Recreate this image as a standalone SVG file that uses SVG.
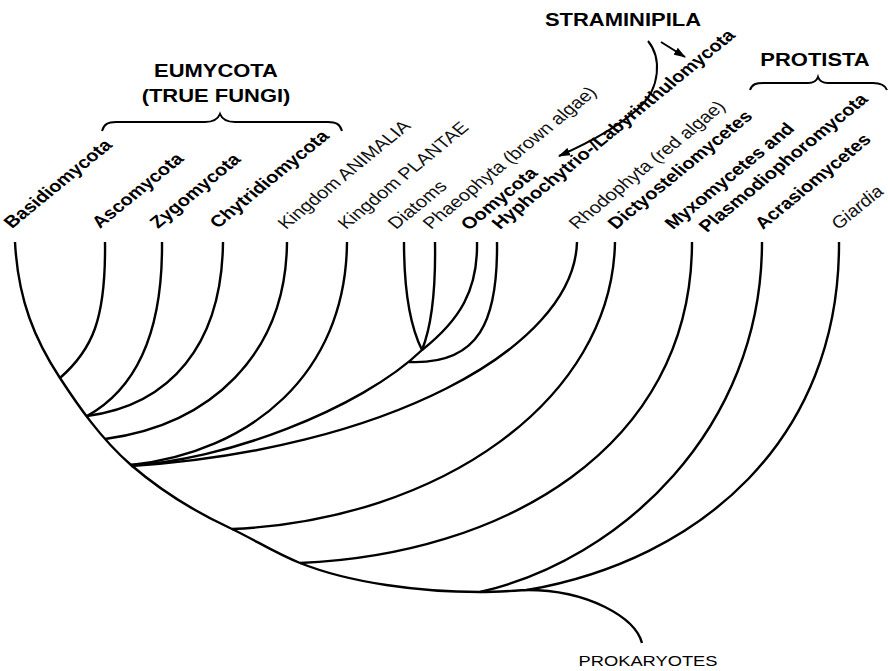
<svg xmlns="http://www.w3.org/2000/svg" width="888" height="671" viewBox="0 0 888 671">
<style>
.ln{fill:none;stroke:#000;stroke-width:2.4;stroke-linecap:butt}
.br{fill:none;stroke:#000;stroke-width:2}
text{font-family:"Liberation Sans",Arial,Helvetica,sans-serif;fill:#000}
.b{font-weight:bold;font-size:16.5px}
.r{font-weight:normal;font-size:16.5px;fill:#111}
.i{font-style:italic;font-size:16.5px;fill:#111}
.t{font-weight:bold;font-size:18px;text-anchor:middle}
.p{font-size:15px;text-anchor:middle}
</style>
<defs>
<marker id="ah" viewBox="0 0 12 8" refX="11" refY="4" markerWidth="12" markerHeight="8" markerUnits="userSpaceOnUse" orient="auto">
<path d="M0,0 L12,4 L0,8 z" fill="#000"/>
</marker>
</defs>
<rect width="888" height="671" fill="#fff"/>

<g id="connectors">
<path class="ln" d="M15,242 C18,300 35,340 60,378 C77,404 100,438 131,465 C160,490 195,512 232,529 C255,540 275,553 300,563 C350,583 420,592 480,592 C495,592 510,591 527,590"/>
<path class="ln" d="M105,242 C106,320 92,350 60,378"/>
<path class="ln" d="M162,242 C163,350 125,395 87,416"/>
<path class="ln" d="M223,242 C222,345 170,405 87,416"/>
<path class="ln" d="M287,242 C286,355 210,425 105,439"/>
<path class="ln" d="M347,242 C346,375 250,452 131,465"/>
<path class="ln" d="M404,242 C404,300 412,330 422,350"/>
<path class="ln" d="M435,242 C436,300 430,330 422,350"/>
<path class="ln" d="M477,242 C478,290 460,320 422,350 C360,410 220,462 131,465"/>
<path class="ln" d="M497,242 C498,320 480,365 409,362"/>
<path class="ln" d="M577,242 C574,350 380,450 131,466"/>
<path class="ln" d="M615,242 C612,400 440,520 232,529"/>
<path class="ln" d="M692,242 C692,450 500,555 300,563"/>
<path class="ln" d="M762,242 C762,430 620,560 480,592"/>
<path class="ln" d="M839,242 C840,440 700,560 527,590"/>
<path class="ln" d="M527,590 C560,590 585,597 605,607 C625,617 638,628 642,643"/>
<path class="br" d="M648,41 C662,58 660,88 640,107 C622,124 595,140 559,156" marker-end="url(#ah)"/>
<path class="br" d="M661,42 L685,57" marker-end="url(#ah)"/>
</g>

<g id="eumycota">
<path class="br" d="M102,131 C104,124 108,122 116,122 L205,122 C213,122 218,119 220,114 C222,119 227,122 235,122 L328,122 C336,122 340,124 342,131"/>
<text class="t" transform="translate(216,77) scale(1.22,1)">EUMYCOTA</text>
<text class="t" transform="translate(216,102) scale(1.22,1)">(TRUE FUNGI)</text>
</g>
<g id="protista">
<path class="br" d="M750,90 C752,84 756,83 764,83 L808,83 C815,83 817,80 818,77 C819,80 821,83 828,83 L873,83 C881,83 885,85 887,90"/>
<text class="t" transform="translate(815,66) scale(1.22,1)">PROTISTA</text>
</g>
<g id="straminipila">
<text class="t" transform="translate(623,26) scale(1.22,1)">STRAMINIPILA</text>
</g>

<g id="basidiomycota"><text class="b" transform="translate(12,229) scale(1.22,1) rotate(-45)">Basidiomycota</text></g>
<g id="ascomycota"><text class="b" transform="translate(100,229) scale(1.22,1) rotate(-45)">Ascomycota</text></g>
<g id="zygomycota"><text class="b" transform="translate(158,229) scale(1.22,1) rotate(-45)">Zygomycota</text></g>
<g id="chytridiomycota"><text class="b" transform="translate(218,229) scale(1.22,1) rotate(-45)">Chytridiomycota</text></g>
<g id="animalia"><text class="r" transform="translate(286,230) scale(1.22,1) rotate(-45)">Kingdom ANIMALIA</text></g>
<g id="plantae"><text class="r" transform="translate(346,230) scale(1.22,1) rotate(-45)">Kingdom PLANTAE</text></g>
<g id="diatoms"><text class="r" transform="translate(396,230) scale(1.22,1) rotate(-45)">Diatoms</text></g>
<g id="phaeophyta"><text class="r" transform="translate(431,230) scale(1.22,1) rotate(-45)">Phaeophyta (brown algae)</text></g>
<g id="oomycota"><text class="b" transform="translate(469,231) scale(1.22,1) rotate(-45)">Oomycota</text></g>
<g id="hyphochytrio"><text class="b" transform="translate(500,230) scale(1.22,1) rotate(-45)">Hyphochytrio-/Labyrinthulomycota</text></g>
<g id="rhodophyta"><text class="r" transform="translate(577,230) scale(1.22,1) rotate(-45)">Rhodophyta (red algae)</text></g>
<g id="dictyosteliomycetes"><text class="b" transform="translate(616,230) scale(1.22,1) rotate(-45)">Dictyosteliomycetes</text></g>
<g id="myxomycetes">
<text class="b" transform="translate(673,230) scale(1.22,1) rotate(-45)">Myxomycetes and</text>
<text class="b" transform="translate(707,233) scale(1.22,1) rotate(-45)">Plasmodiophoromycota</text>
</g>
<g id="acrasiomycetes"><text class="b" transform="translate(763,230) scale(1.22,1) rotate(-45)">Acrasiomycetes</text></g>
<g id="giardia"><text class="i" transform="translate(839,230) scale(1.22,1) rotate(-45)">Giardia</text></g>
<g id="prokaryotes"><text class="p" transform="translate(648,666) scale(1.22,1)">PROKARYOTES</text></g>
</svg>
